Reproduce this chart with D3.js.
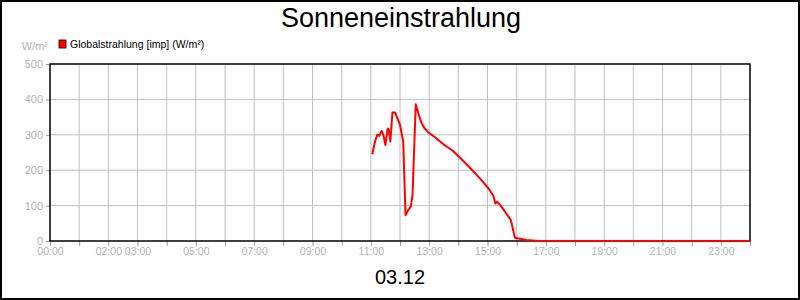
<!DOCTYPE html>
<html>
<head>
<meta charset="utf-8">
<script src="https://cdn.jsdelivr.net/npm/d3@7"></script>
<style>
  body { margin: 0; background: #fff; }
  svg { display: block; font-family: "Liberation Sans", Arial, sans-serif; }
</style>
</head>
<body>
<svg id="chart" width="800" height="300"></svg>
<script>
// Series: time of day (decimal hours) and irradiance in W/m²
const hours = [11.05, 11.14, 11.22, 11.29, 11.37, 11.43, 11.5, 11.58, 11.62, 11.67, 11.74, 11.83, 11.91, 12.0, 12.11,
  12.19, 12.29, 12.37, 12.43, 12.54, 12.63, 12.72, 12.83, 12.97, 13.2, 13.49, 13.81, 14.06, 14.4, 14.74, 15.03,
  15.2, 15.27, 15.33, 15.43, 15.6, 15.8, 15.94, 16.34, 16.74, 20.0, 24.0];
const values = [245, 280, 300, 297, 311, 300, 271, 318, 313, 281, 363, 363, 347, 328, 281,
  73, 88, 97, 130, 386, 360, 337, 320, 307, 293, 273, 255, 235, 207, 177, 149,
  128, 106, 111, 102, 83, 59, 9, 3, 0, 0, 0];
const yTicks = [0, 100, 200, 300, 400, 500];
const xLabelHours = [0, 2, 3, 5, 7, 9, 11, 13, 15, 17, 19, 21, 23];

const svg = d3.select("#chart");
const margin = { left: 50, top: 64, right: 50, bottom: 59 };
const width = 800 - margin.left - margin.right;
const height = 300 - margin.top - margin.bottom;

// Outer frame
svg.append("rect")
    .attr("x", 1).attr("y", 1)
    .attr("width", 798).attr("height", 298)
    .attr("fill", "#fff")
    .attr("stroke", "#000")
    .attr("stroke-width", 2);

// Title
svg.append("text")
    .attr("x", 401).attr("y", 27)
    .attr("text-anchor", "middle")
    .style("font-size", "27px")
    .text("Sonneneinstrahlung");

// Unit label
svg.append("text")
    .attr("x", 48).attr("y", 50)
    .attr("text-anchor", "end")
    .style("font-size", "11px")
    .attr("fill", "#b4b4b4")
    .text("W/m²");

// Legend
svg.append("rect")
    .attr("x", 59).attr("y", 40)
    .attr("width", 7).attr("height", 8)
    .attr("fill", "#ff0000")
    .attr("stroke", "#000")
    .attr("stroke-width", 0.8);
svg.append("text")
    .attr("x", 70).attr("y", 48)
    .style("font-size", "10.5px")
    .text("Globalstrahlung [imp] (W/m²)");

const g = svg.append("g").attr("transform", `translate(${margin.left},${margin.top})`);

const x = d3.scaleLinear().domain([0, 24]).range([0, width]);
const y = d3.scaleLinear().domain([0, 500]).range([height, 0]);

// Grid lines
g.append("g")
    .selectAll("line.v")
    .data(d3.range(1, 24))
    .enter().append("line")
    .attr("x1", d => x(d)).attr("x2", d => x(d))
    .attr("y1", 0).attr("y2", height)
    .attr("stroke", "#c0c0c0");
g.append("g")
    .selectAll("line.h")
    .data(yTicks.slice(1, -1))
    .enter().append("line")
    .attr("x1", 0).attr("x2", width)
    .attr("y1", d => y(d)).attr("y2", d => y(d))
    .attr("stroke", "#c0c0c0");

// Y axis
const yAxis = g.append("g")
    .call(d3.axisLeft(y).tickValues(yTicks).tickSize(4).tickPadding(3));
yAxis.select(".domain").remove();
yAxis.selectAll(".tick line").attr("stroke", "#a0a0a0");
yAxis.selectAll("text").attr("fill", "#b4b4b4").style("font-size", "11px")
    .style("font-family", "Liberation Sans, Arial, sans-serif");

// X axis
const xAxis = g.append("g")
    .attr("transform", `translate(0,${height})`)
    .call(d3.axisBottom(x).tickValues(d3.range(0, 25)).tickSize(5).tickPadding(2)
        .tickFormat(d => xLabelHours.includes(d) ? d3.format("02")(d) + ":00" : ""));
xAxis.select(".domain").remove();
xAxis.selectAll(".tick line").attr("stroke", "#a0a0a0");
xAxis.selectAll("text").attr("fill", "#b4b4b4").style("font-size", "10.5px")
    .style("font-family", "Liberation Sans, Arial, sans-serif");

// Plot frame
g.append("rect")
    .attr("x", 0).attr("y", 0)
    .attr("width", width).attr("height", height)
    .attr("fill", "none")
    .attr("stroke", "#000")
    .attr("stroke-width", 1.5);

// Line
const points = hours.map((h, i) => ({ h: h, v: values[i] }));
g.append("path")
    .datum(points)
    .attr("fill", "none")
    .attr("stroke", "#ff0000")
    .attr("stroke-width", 2)
    .attr("stroke-linejoin", "round")
    .attr("d", d3.line().x(d => x(d.h)).y(d => y(d.v)));

// Date label
svg.append("text")
    .attr("x", 400).attr("y", 284)
    .attr("text-anchor", "middle")
    .style("font-size", "20px")
    .text("03.12");
</script>
</body>
</html>
